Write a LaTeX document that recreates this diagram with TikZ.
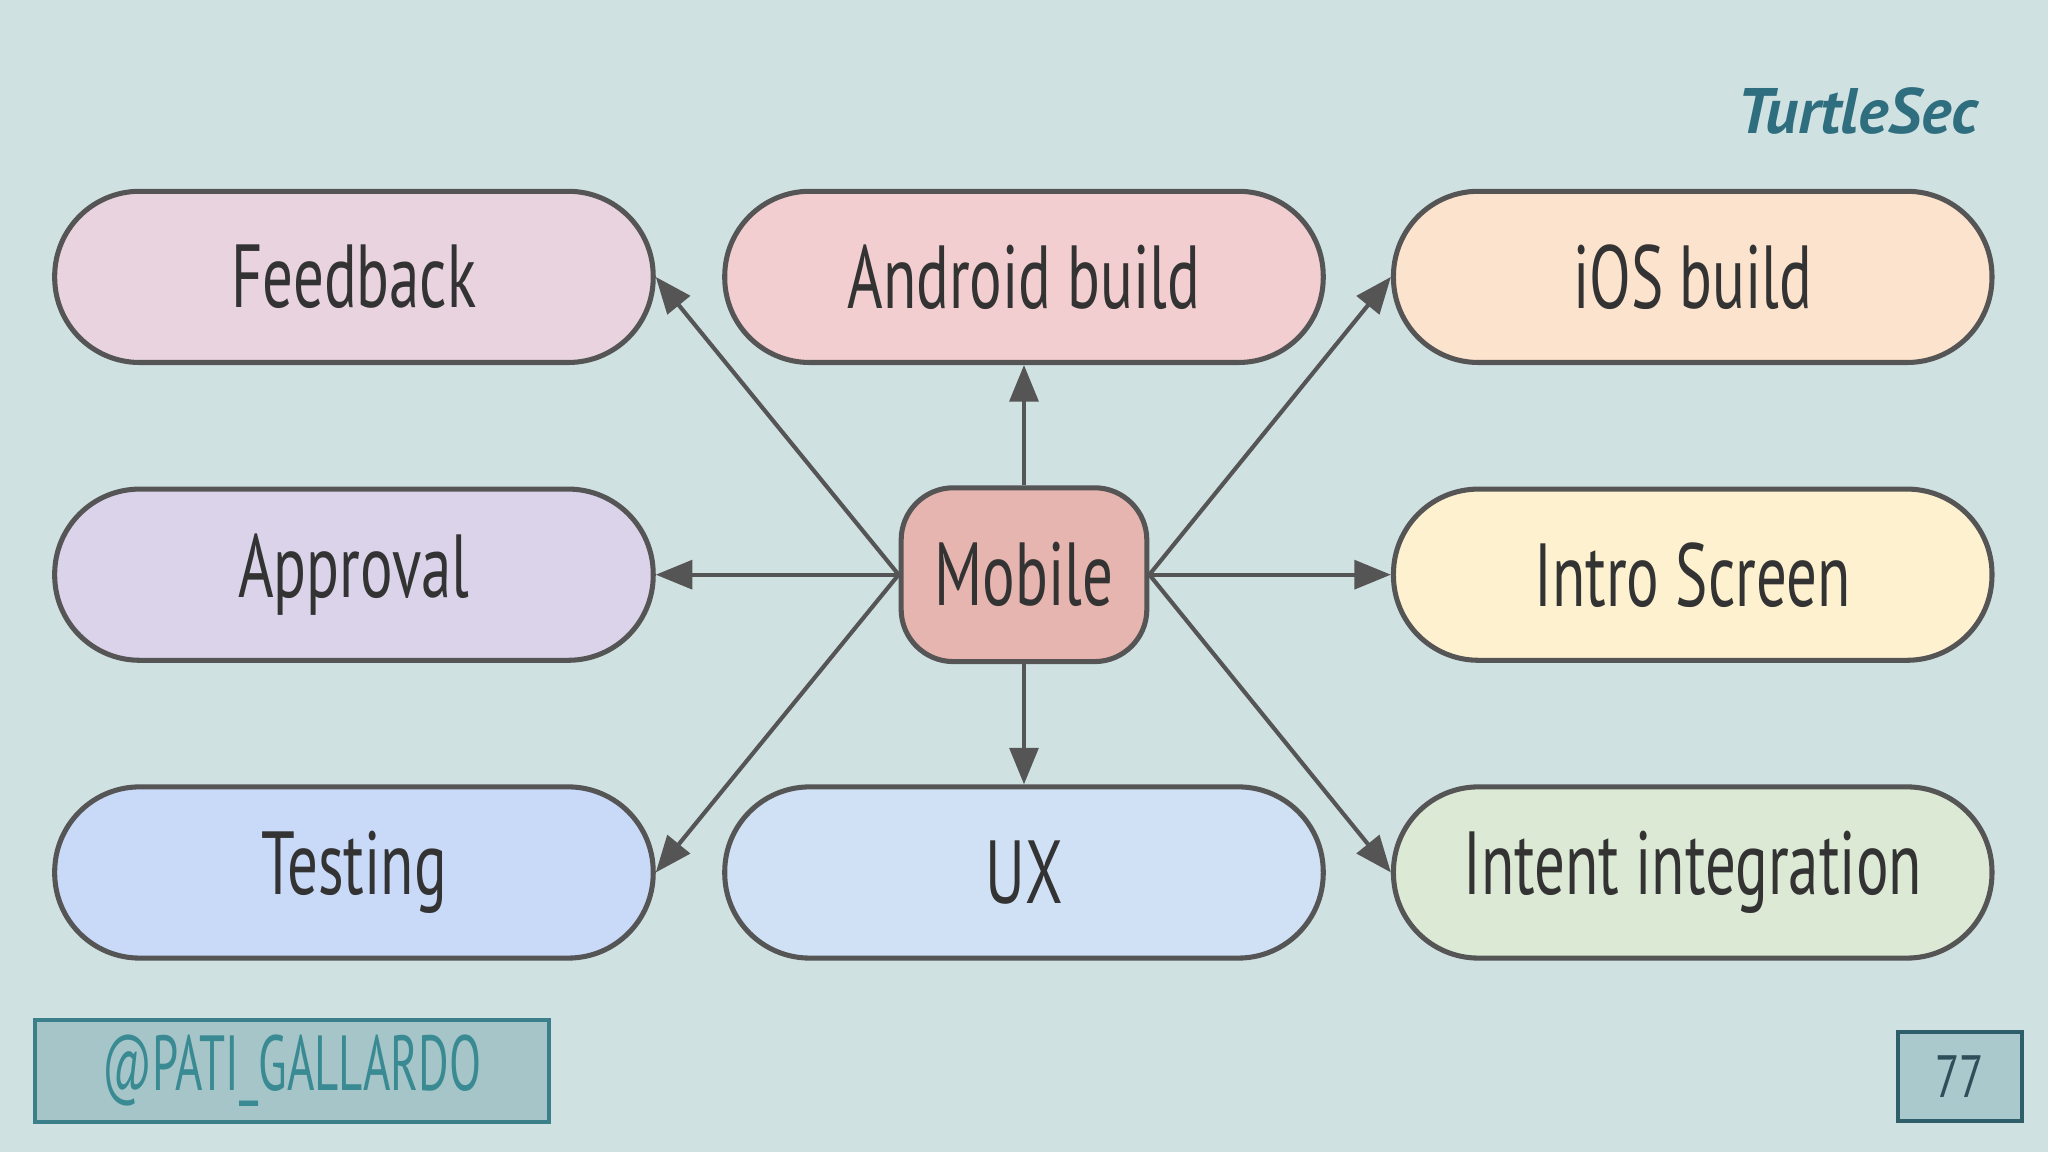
\documentclass[tikz,border=0pt]{standalone}
\usepackage{fontspec}
\setmainfont{PT Sans}
\usetikzlibrary{arrows.meta}
\definecolor{bg}{HTML}{D0E1E2}
\definecolor{bd}{HTML}{555555}
\definecolor{tx}{HTML}{333333}
\definecolor{cfb}{HTML}{E8D3DF}
\definecolor{can}{HTML}{F3CED0}
\definecolor{cios}{HTML}{FCE3CE}
\definecolor{cap}{HTML}{DAD3EA}
\definecolor{cin}{HTML}{FDF1D0}
\definecolor{cte}{HTML}{C9D9F8}
\definecolor{cux}{HTML}{D0E1F5}
\definecolor{cii}{HTML}{DCE9D5}
\definecolor{cm}{HTML}{E6B5AF}
\definecolor{logoc}{HTML}{2E6E7E}
\definecolor{twb}{HTML}{3A7F8A}
\definecolor{twf}{HTML}{A5C5C8}
\definecolor{twt}{HTML}{3A8A93}
\definecolor{pgb}{HTML}{2E5E6A}
\definecolor{pgf}{HTML}{A9C9CC}
\definecolor{pgt}{HTML}{2E4E5A}
\tikzset{
 pill/.style={draw=bd,line width=1.1pt,minimum width=4.58cm,minimum height=1.31cm,rounded corners=0.65cm,text=tx,font=\fontsize{19.5}{22}\selectfont},
 arr/.style={draw=bd,line width=0.9pt,-{Triangle[length=0.28cm,width=0.22cm]}}
}
\newcommand{\nar}[1]{\scalebox{0.68}[1]{#1}}
\begin{document}
\begin{tikzpicture}[x=0.01cm,y=-0.01cm]
\fill[bg] (0,0) rectangle (1568,882);
\node[pill,fill=cfb] (fb) at (271,212) {\nar{Feedback}};
\node[pill,fill=can] (an) at (784,212) {\nar{Android build}};
\node[pill,fill=cios] (ios) at (1296,212) {\nar{iOS build}};
\node[pill,fill=cap] (ap) at (271,440) {\nar{Approval}};
\node[pill,fill=cin] (in) at (1296,440) {\nar{Intro Screen}};
\node[pill,fill=cte] (te) at (271,668) {\nar{Testing}};
\node[pill,fill=cux] (ux) at (784,668) {\nar{UX}};
\node[pill,fill=cii] (ii) at (1296,668) {\nar{Intent integration}};
\node[pill,fill=cm,minimum width=1.88cm,minimum height=1.33cm,rounded corners=0.4cm] (m) at (784,440) {\nar{Mobile}};
\draw[arr] (m.west) -- (fb.east);
\draw[arr] (m.north) -- (an.south);
\draw[arr] (m.east) -- (ios.west);
\draw[arr] (m.west) -- (ap.east);
\draw[arr] (m.east) -- (in.west);
\draw[arr] (m.west) -- (te.east);
\draw[arr] (m.south) -- (ux.north);
\draw[arr] (m.east) -- (ii.west);
\node[text=logoc,font=\fontsize{14}{16}\selectfont\bfseries\itshape] (logo) at (1422,85) {TurtleSec};
\node[draw=twb,fill=twf,line width=0.8pt,minimum width=3.93cm,minimum height=0.76cm,text=twt,font=\fontsize{17}{20}\selectfont] (tw) at (223.5,820) {\scalebox{0.6}[1]{@PATI\_GALLARDO}};
\node[draw=pgb,fill=pgf,line width=0.8pt,minimum width=0.95cm,minimum height=0.68cm,text=pgt,font=\fontsize{13}{15}\selectfont] (pg) at (1500.5,824) {\scalebox{0.75}[1]{77}};
\end{tikzpicture}
\end{document}
